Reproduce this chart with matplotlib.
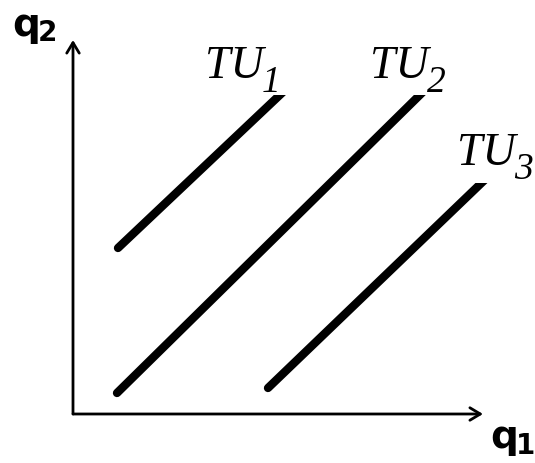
import matplotlib.pyplot as plt
from matplotlib.patches import FancyArrowPatch, Rectangle

# indifference lines (q1 start, q2 start, q1 end, q2 end)
line_names = ["TU", "TU", "TU"]
line_subs = ["1", "2", "3"]
q1_start = [45, 44, 195]
q2_start = [166, 21, 26]
q1_end = [210, 358, 423]
q2_end = [322, 330, 245]
label_x = [132, 297, 384]
label_y = [336, 336, 249]
box_x = [122, 282, 367]
box_y = [319, 319, 231]

fig = plt.figure(figsize=(5.35, 4.63), dpi=100)
ax = fig.add_axes([0, 0, 1, 1])
ax.set_xlim(-73, 462)
ax.set_ylim(-49, 414)
ax.axis('off')

# axes with arrows
ax.add_patch(FancyArrowPatch((0, 0), (0, 374), arrowstyle='->,head_length=5,head_width=3',
                             lw=2, color='black', mutation_scale=1.5, shrinkA=0, shrinkB=0))
ax.add_patch(FancyArrowPatch((0, 0), (410, 0), arrowstyle='->,head_length=5,head_width=3',
                             lw=2, color='black', mutation_scale=1.5, shrinkA=0, shrinkB=0))

for i in range(3):
    ax.plot([q1_start[i], q1_end[i]], [q2_start[i], q2_end[i]], color='black',
            lw=6, solid_capstyle='round', zorder=2)
    ax.add_patch(Rectangle((box_x[i], box_y[i]), 95, 62, facecolor='white',
                           edgecolor='none', zorder=3))
    ax.text(label_x[i], label_y[i], line_names[i], fontsize=33, family='Liberation Serif',
            style='italic', ha='left', va='baseline', zorder=4)
    ax.text(label_x[i] + 57, label_y[i] - 14, line_subs[i], fontsize=27,
            family='Liberation Serif', style='italic', ha='left', va='baseline', zorder=4)

ax.text(-61, 389, "q", fontsize=28, fontweight='bold', ha='left', va='center')
ax.text(-35, 381, "2", fontsize=20, fontweight='bold', ha='left', va='center')
ax.text(417, -23, "q", fontsize=28, fontweight='bold', ha='left', va='center')
ax.text(443, -32, "1", fontsize=20, fontweight='bold', ha='left', va='center')

fig.savefig("out.png", dpi=100)
